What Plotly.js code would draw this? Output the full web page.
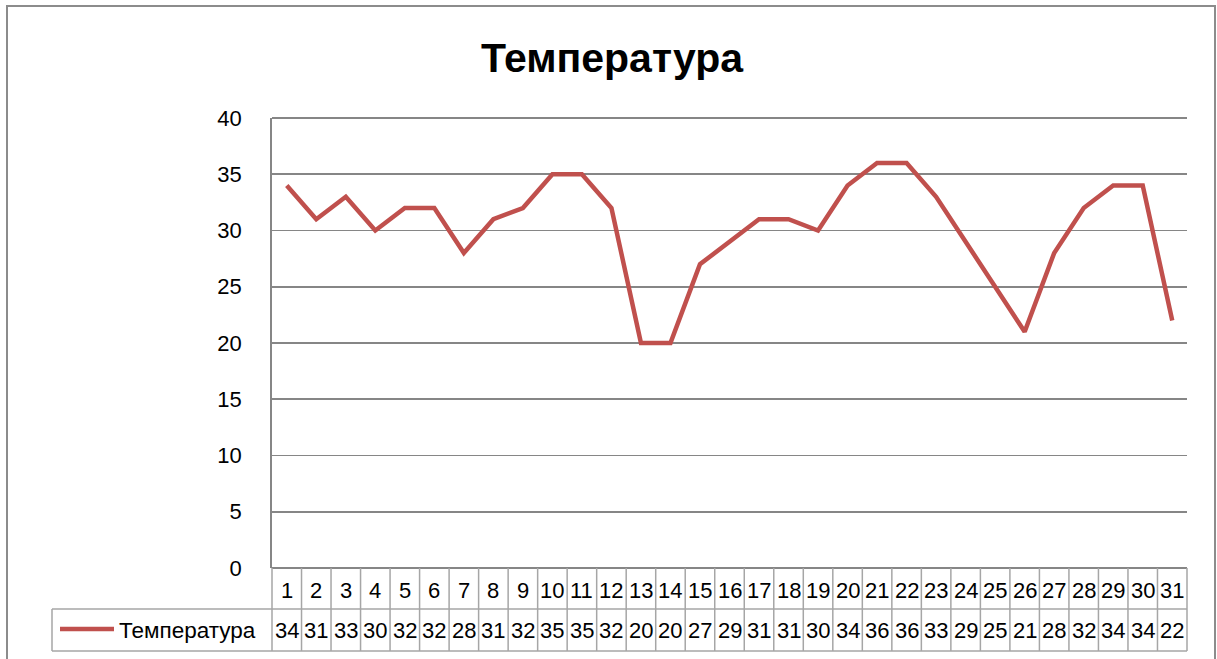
<!DOCTYPE html>
<html>
<head>
<meta charset="utf-8">
<script src="https://cdn.plot.ly/plotly-3.0.1.min.js"></script>
<style>html,body{margin:0;padding:0;background:#fff;}#chart{width:1217px;height:659px;}</style>
</head>
<body>
<div id="chart"></div>
<script>
// Data
const days = [1,2,3,4,5,6,7,8,9,10,11,12,13,14,15,16,17,18,19,20,21,22,23,24,25,26,27,28,29,30,31];
const temperature = [34,31,33,30,32,32,28,31,32,35,35,32,20,20,27,29,31,31,30,34,36,36,33,29,25,21,28,32,34,34,22];
const seriesName = 'Температура';
const chartTitle = 'Температура';
const yTicks = [0,5,10,15,20,25,30,35,40];

// Layout geometry
const W = 1217, H = 659;
const L = 272, R = 1187, T = 118, B = 568;
const pw = R - L, ph = B - T;
const px = v => (v - L) / pw;
const py = v => (B - v) / ph;

const FONT = 'Liberation Sans, Arial, sans-serif';
const lineColor = '#C0504D';
const gridColor = '#868686';
const tableColor = '#a6a6a6';

const rowTop = 568, rowMid = 609, rowBot = 651;
const legendLeft = 52;

const shapes = [];
// outer chart border
shapes.push({type:'rect', xref:'paper', yref:'paper', x0:px(7), x1:px(1215), y0:py(6), y1:py(680),
  line:{color:'#8c8c8c', width:2}, fillcolor:'rgba(0,0,0,0)'});
// top gridline (max of axis range)
shapes.push({type:'line', xref:'paper', yref:'paper', x0:0, x1:1, y0:1, y1:1, line:{color:gridColor, width:1.8}});
// table top line (axis at 0)
shapes.push({type:'line', xref:'paper', yref:'paper', x0:0, x1:1, y0:py(rowTop), y1:py(rowTop), line:{color:gridColor, width:1.8}});
// table horizontal lines
shapes.push({type:'line', xref:'paper', yref:'paper', x0:px(legendLeft), x1:1, y0:py(rowMid), y1:py(rowMid), line:{color:tableColor, width:1.5}});
shapes.push({type:'line', xref:'paper', yref:'paper', x0:px(legendLeft), x1:1, y0:py(rowBot), y1:py(rowBot), line:{color:tableColor, width:1.5}});
// legend cell left border
shapes.push({type:'line', xref:'paper', yref:'paper', x0:px(legendLeft), x1:px(legendLeft), y0:py(rowMid), y1:py(rowBot), line:{color:tableColor, width:1.5}});
// table left and right edges
shapes.push({type:'line', xref:'paper', yref:'paper', x0:0, x1:0, y0:py(rowTop), y1:py(rowBot), line:{color:tableColor, width:1.5}});
shapes.push({type:'line', xref:'paper', yref:'paper', x0:1, x1:1, y0:py(rowTop), y1:py(rowBot), line:{color:tableColor, width:1.5}});
// internal vertical table lines
for (let i = 1; i < days.length; i++) {
  shapes.push({type:'line', xref:'x', yref:'paper', x0:i+0.5, x1:i+0.5, y0:py(rowTop), y1:py(rowBot), line:{color:tableColor, width:1.5}});
}
// legend key line
shapes.push({type:'line', xref:'paper', yref:'paper', x0:px(60), x1:px(114), y0:py(629), y1:py(629), line:{color:lineColor, width:4.5}});

const annotations = [];
days.forEach((d, i) => {
  annotations.push({x:d, y:py(590), xref:'x', yref:'paper', text:String(d), showarrow:false,
    font:{family:FONT, size:22, color:'#000'}, xanchor:'center', yanchor:'middle'});
  annotations.push({x:d, y:py(630), xref:'x', yref:'paper', text:String(temperature[i]), showarrow:false,
    font:{family:FONT, size:22, color:'#000'}, xanchor:'center', yanchor:'middle'});
});
annotations.push({x:px(117), y:py(630), xref:'paper', yref:'paper', text:seriesName, showarrow:false,
  font:{family:FONT, size:22.5, color:'#000'}, xanchor:'left', yanchor:'middle'});

const data = [{
  x: days, y: temperature, type:'scatter', mode:'lines', name:seriesName,
  line:{color:lineColor, width:4.5}
}];

const layout = {
  width:W, height:H,
  margin:{l:L, r:W-R, t:T, b:H-B, pad:0},
  paper_bgcolor:'#fff', plot_bgcolor:'#fff',
  showlegend:false,
  title:{text:'<b>'+chartTitle+'</b>', x:px(612), xanchor:'center', y:1-58/H, yanchor:'middle', yref:'container', xref:'paper',
    font:{family:FONT, size:41, color:'#000'}},
  xaxis:{range:[0.5,31.5], showticklabels:false, showgrid:false, zeroline:false, showline:false, ticks:'', fixedrange:true},
  yaxis:{range:[0,40], tickvals:yTicks, ticktext:yTicks.map(String), showgrid:true, gridcolor:gridColor, gridwidth:1.8,
    zeroline:false, showline:true, linecolor:gridColor, linewidth:1.8, ticks:'', ticklabelstandoff:24,
    tickfont:{family:FONT, size:22, color:'#000'}, fixedrange:true},
  shapes:shapes,
  annotations:annotations
};

Plotly.newPlot('chart', data, layout, {displayModeBar:false, staticPlot:true});
</script>
</body>
</html>
